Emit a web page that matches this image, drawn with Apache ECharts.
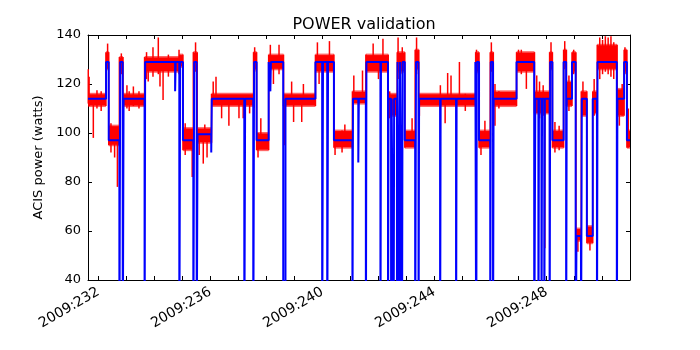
<!DOCTYPE html>
<html>
<head>
<meta charset="utf-8">
<title>POWER validation</title>
<script src="https://cdn.jsdelivr.net/npm/echarts@6/dist/echarts.min.js"></script>
<style>
  html, body { margin: 0; padding: 0; background: #fff; }
  #chart { width: 700px; height: 350px; }
</style>
</head>
<body>
<div id="chart"></div>
<script>
// x values are day-of-year 2009 (fractional)
const dayTicks = [232, 233, 234, 235, 236, 237, 238, 239, 240, 241, 242, 243, 244, 245, 246, 247, 248, 249, 250]
const dayLabels = [232, 236, 240, 244, 248]

// model power, step function: [day, watts] holds until next point (0 = dropout, off scale)
const modelSteps = [
  [231.63, 114], [232.275, 129], [232.37, 97], [232.75, 0], [232.78, 129], [232.87, 0], [232.90, 114],
  [233.65, 0], [233.67, 129], [234.74, 117], [234.76, 129], [234.89, 0], [234.92, 129], [235.02, 97],
  [235.39, 0], [235.42, 129], [235.51, 0], [235.54, 99.5], [236.03, 92], [236.05, 114], [237.21, 0],
  [237.24, 114], [237.53, 0], [237.56, 129], [237.65, 97], [238.08, 129], [238.14, 117], [238.16, 129],
  [238.60, 0], [238.68, 114], [239.75, 129], [239.99, 0], [240.02, 129], [240.17, 0], [240.20, 129],
  [240.41, 97], [241.07, 0], [241.09, 114], [241.28, 88], [241.30, 114], [241.55, 0], [241.57, 129],
  [242.07, 0], [242.09, 129], [242.34, 0], [242.36, 114], [242.45, 0], [242.47, 114], [242.54, 0],
  [242.56, 114], [242.66, 0], [242.68, 129], [242.75, 0], [242.77, 129], [242.84, 0], [242.86, 129],
  [242.94, 97], [243.31, 0], [243.34, 129], [243.43, 0], [243.45, 114], [244.20, 0], [244.22, 114],
  [244.77, 0], [244.79, 114], [245.46, 129], [245.49, 0], [245.51, 129], [245.59, 97], [245.99, 0],
  [246.01, 129], [246.09, 0], [246.11, 114], [246.93, 129], [247.56, 0], [247.60, 114], [247.71, 0],
  [247.73, 114], [247.82, 0], [247.84, 114], [247.92, 0], [247.94, 114], [248.11, 0], [248.13, 129],
  [248.21, 97], [248.61, 129], [248.70, 0], [248.72, 114], [248.91, 129], [249.04, 0], [249.07, 58],
  [249.23, 0], [249.26, 114], [249.44, 58], [249.65, 114], [249.80, 0], [249.82, 129], [250.51, 0],
  [250.53, 114], [250.77, 129], [250.87, 97], [250.98, 97]
]

// telemetry: dense band per segment [dayStart, dayEnd, low, high]
const telemBands = [
  [231.63, 232.27, 111, 116], [232.27, 232.37, 126, 133], [232.37, 232.75, 95, 103],
  [232.75, 232.88, 125, 131], [232.88, 233.65, 111, 116], [233.65, 234.90, 125, 131],
  [234.90, 235.02, 127, 132], [235.02, 235.39, 93, 102], [235.39, 235.53, 127, 133],
  [235.53, 236.04, 96, 102], [236.04, 237.54, 111, 116], [237.54, 237.65, 126, 133],
  [237.65, 238.08, 93, 100], [238.08, 238.61, 126, 132], [238.61, 239.75, 111, 116],
  [239.75, 240.41, 125, 132], [240.41, 241.07, 94, 101], [241.07, 241.55, 112, 117],
  [241.55, 242.35, 125, 132], [242.35, 242.67, 107, 116], [242.67, 242.94, 125, 133],
  [242.94, 243.31, 94, 101], [243.31, 243.44, 126, 134], [243.44, 245.47, 111, 116],
  [245.47, 245.59, 125, 133], [245.59, 245.99, 94, 101], [245.99, 246.10, 126, 133],
  [246.10, 246.93, 111, 117], [246.93, 247.57, 125, 133], [247.57, 248.11, 108, 117],
  [248.11, 248.21, 126, 133], [248.21, 248.61, 94, 101], [248.61, 248.71, 127, 134],
  [248.71, 248.91, 111, 121], [248.91, 249.05, 125, 133], [249.05, 249.24, 56, 61],
  [249.24, 249.44, 107, 117], [249.44, 249.65, 55, 62], [249.65, 249.81, 108, 117],
  [249.81, 250.52, 126, 136], [250.52, 250.77, 107, 118], [250.77, 250.87, 125, 134],
  [250.87, 250.98, 94, 101]
]

// telemetry excursions outside the band: [day, low, high]
const telemSpikes = [
  [231.64, 112, 126], [231.67, 111, 123], [231.82, 98, 112], [231.95, 110, 117.5], [232.10, 109, 117],
  [232.33, 128, 136.5], [232.45, 92, 104], [232.58, 90, 100], [232.68, 78, 98], [232.82, 124, 132.5],
  [233.02, 110, 119.5], [233.10, 109, 117], [233.25, 111, 119], [233.45, 110, 117], [233.72, 122, 133],
  [233.78, 121, 130], [233.95, 123, 135], [234.14, 124, 139], [234.20, 119, 130], [234.31, 113.5, 128],
  [234.50, 123, 132], [234.88, 124, 134], [235.10, 91, 104], [235.35, 82, 96], [235.47, 125, 137],
  [235.60, 91, 100], [235.745, 87.5, 98], [235.80, 98, 103.5], [235.88, 90, 100], [236.10, 112, 121],
  [236.20, 112, 123], [236.40, 106, 114], [236.66, 103, 113], [237.02, 106, 113], [237.17, 106, 114],
  [237.40, 108, 115], [237.58, 125, 135], [237.70, 90, 100], [237.80, 95, 106], [238.14, 127, 136],
  [238.25, 120, 128], [238.45, 124, 136], [238.64, 95, 113], [238.90, 112, 121], [238.97, 104.5, 113],
  [239.26, 104.5, 113], [239.32, 112, 120], [239.82, 126, 137], [239.88, 120, 128], [240.25, 126, 137.5],
  [240.45, 91, 100], [240.70, 92, 101], [240.80, 95, 103.5], [241.12, 113, 123.5], [241.43, 113, 125.5],
  [241.81, 127, 136.5], [242.00, 122, 130], [242.16, 127, 138.5], [242.40, 106, 117], [242.70, 122, 139],
  [242.85, 124, 135], [243.20, 97, 106], [243.36, 124, 139], [243.46, 107, 115], [244.21, 112, 119.5],
  [244.38, 104, 112], [244.47, 112, 124.5], [244.59, 112, 123.5], [244.89, 112, 129], [245.10, 109, 116],
  [245.50, 124, 134], [245.66, 91, 97], [245.80, 98, 105], [246.03, 125, 137], [246.16, 103, 120],
  [246.30, 110, 117], [247.00, 126, 134], [247.10, 124, 134], [247.28, 118, 127], [247.65, 112, 123.5],
  [247.75, 106, 121], [247.88, 107, 119.5], [247.94, 53, 112], [248.16, 126, 137], [248.30, 92, 104.5],
  [248.45, 93, 103], [248.65, 126, 137.5], [248.80, 109, 123.5], [248.97, 124, 134], [249.12, 51.5, 59],
  [249.30, 108, 121], [249.55, 52, 61], [249.70, 107, 122], [249.90, 122, 139], [250.00, 124, 138],
  [250.10, 125, 139.5], [250.20, 124, 139], [250.30, 123, 139.5], [250.40, 122, 137], [250.60, 103, 117],
  [250.70, 107, 120], [250.80, 124, 135], [250.92, 94, 110]
]

const RED = '#ff0000'
const BLUE = '#0000ff'
const FONT = 'DejaVu Sans'
const X_MIN = 231.63
const X_MAX = 250.98

// vertical jumps of the telemetry between neighbouring segments
const telemJumps = telemBands.slice(1).map((b, i) => {
  const prev = telemBands[i]
  return [b[0], Math.min(prev[2], b[2]), Math.max(prev[3], b[3])]
})

// solid core plus a thin softer fringe, so the noisy band does not look like a box
function renderBand(params, api) {
  const p0 = api.coord([api.value(0), api.value(3)])
  const p1 = api.coord([api.value(1), api.value(2)])
  const w = p1[0] - p0[0]
  const h = p1[1] - p0[1]
  return {
    type: 'group',
    children: [
      {
        type: 'rect',
        shape: { x: p0[0], y: p0[1] - 1, width: w, height: h + 2 },
        style: { fill: RED, opacity: 0.6 }
      },
      {
        type: 'rect',
        shape: { x: p0[0], y: p0[1] + 0.5, width: w, height: Math.max(h - 1, 1) },
        style: { fill: RED }
      }
    ]
  }
}

function renderSpike(params, api) {
  const a = api.coord([api.value(0), api.value(1)])
  const b = api.coord([api.value(0), api.value(2)])
  return {
    type: 'line',
    shape: { x1: a[0], y1: a[1], x2: b[0], y2: b[1] },
    style: { stroke: RED, lineWidth: 1.5 }
  }
}

const frameLine = { show: true, onZero: false, lineStyle: { color: '#000', width: 1 } }
const tickStyle = { show: true, inside: true, length: 4, lineStyle: { color: '#000', width: 1 } }

const chart = echarts.init(document.getElementById('chart'))

chart.setOption({
  animation: false,
  backgroundColor: '#fff',
  title: {
    text: 'POWER validation',
    left: 359,
    top: 12,
    textAlign: 'center',
    textStyle: { fontFamily: FONT, fontSize: 16, fontWeight: 'normal', color: '#000' }
  },
  grid: { left: 88, right: 70, top: 35, bottom: 70 },
  xAxis: [
    {
      type: 'value', position: 'bottom', min: X_MIN, max: X_MAX,
      axisLine: frameLine,
      axisTick: { ...tickStyle, customValues: dayTicks },
      axisLabel: {
        customValues: dayLabels,
        formatter: v => '2009:' + v,
        rotate: 30, margin: 11,
        fontFamily: FONT, fontSize: 14, color: '#000'
      },
      splitLine: { show: false }
    },
    {
      type: 'value', position: 'top', min: X_MIN, max: X_MAX,
      axisLine: frameLine,
      axisTick: { ...tickStyle, customValues: dayTicks },
      axisLabel: { show: false },
      splitLine: { show: false }
    }
  ],
  yAxis: [
    {
      type: 'value', position: 'left', min: 40, max: 140, interval: 20,
      name: 'ACIS power (watts)', nameLocation: 'middle', nameGap: 37,
      nameTextStyle: { fontFamily: FONT, fontSize: 13, color: '#000' },
      axisLine: frameLine,
      axisTick: tickStyle,
      axisLabel: { margin: 7, fontFamily: FONT, fontSize: 13, color: '#000' },
      splitLine: { show: false }
    },
    {
      type: 'value', position: 'right', min: 40, max: 140, interval: 20,
      axisLine: frameLine,
      axisTick: tickStyle,
      axisLabel: { show: false },
      splitLine: { show: false }
    }
  ],
  series: [
    {
      name: 'telemetry band',
      type: 'custom',
      renderItem: renderBand,
      encode: { x: [0, 1], y: [2, 3] },
      data: telemBands,
      z: 1
    },
    {
      name: 'telemetry spikes',
      type: 'custom',
      renderItem: renderSpike,
      encode: { x: 0, y: [1, 2] },
      data: telemSpikes.concat(telemJumps),
      z: 1
    },
    {
      name: 'model',
      type: 'line',
      step: 'end',
      showSymbol: false,
      clip: true,
      data: modelSteps,
      lineStyle: { color: BLUE, width: 2 },
      z: 3
    }
  ]
})

window.addEventListener('resize', () => chart.resize())
</script>
</body>
</html>
